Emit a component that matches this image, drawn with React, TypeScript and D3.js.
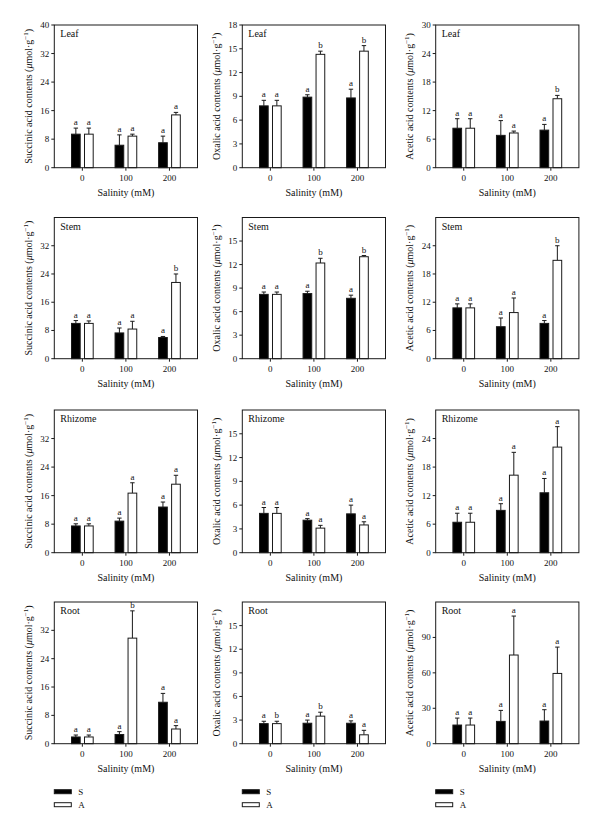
import React from 'react';
import * as d3 from 'd3';

const salinity = ['0', '100', '200'];
const organs = ['Leaf', 'Stem', 'Rhizome', 'Root'];
const acidNames = ['Succinic', 'Oxalic', 'Acetic'];

// means (rows: Leaf, Stem, Rhizome, Root; cols: 0, 100, 200 mM)
const succinicS = [[9.4, 6.3, 7.0], [10.0, 7.3, 6.0], [7.5, 8.85, 12.8], [1.9, 2.6, 11.7]];
const succinicSErr = [[1.7, 2.9, 1.85], [0.8, 1.4, 0.3], [0.6, 0.85, 1.4], [0.55, 0.8, 2.5]];
const succinicA = [[9.4, 8.85, 14.8], [10.0, 8.4, 21.6], [7.5, 16.7, 19.2], [1.9, 29.8, 4.15]];
const succinicAErr = [[1.7, 0.55, 0.7], [0.7, 2.2, 2.4], [0.6, 2.9, 2.5], [0.55, 7.7, 0.95]];

const oxalicS = [[7.8, 8.9, 8.8], [8.2, 8.3, 7.7], [4.96, 4.1, 4.9], [2.55, 2.6, 2.6]];
const oxalicSErr = [[0.7, 0.3, 1.1], [0.3, 0.3, 0.4], [0.74, 0.2, 1.1], [0.3, 0.4, 0.3]];
const oxalicA = [[7.8, 14.3, 14.7], [8.2, 12.2, 13.0], [4.96, 3.1, 3.5], [2.55, 3.5, 1.13]];
const oxalicAErr = [[0.7, 0.4, 0.7], [0.3, 0.6, 0.15], [0.74, 0.35, 0.4], [0.3, 0.5, 0.57]];

const aceticS = [[8.3, 6.8, 7.9], [10.8, 6.8, 7.5], [6.4, 8.9, 12.6], [15.8, 18.9, 19.2]];
const aceticSErr = [[2.0, 3.1, 1.2], [0.85, 1.85, 0.6], [1.9, 1.4, 3.0], [5.9, 9.3, 9.6]];
const aceticA = [[8.3, 7.3, 14.5], [10.8, 9.8, 20.9], [6.4, 16.3, 22.2], [15.8, 75.1, 59.5]];
const aceticAErr = [[2.0, 0.4, 0.7], [0.85, 3.1, 3.1], [1.9, 4.8, 4.3], [5.9, 33.0, 22.3]];

// significance letters
const succinicSLetters = [['a', 'a', 'a'], ['a', 'a', 'a'], ['a', 'a', 'a'], ['a', 'a', 'a']];
const succinicALetters = [['a', 'a', 'a'], ['a', 'a', 'b'], ['a', 'a', 'a'], ['a', 'b', 'a']];
const oxalicSLetters = [['a', 'a', 'a'], ['a', 'a', 'a'], ['a', 'a', 'a'], ['a', 'a', 'a']];
const oxalicALetters = [['a', 'b', 'b'], ['a', 'b', 'b'], ['a', 'a', 'a'], ['b', 'b', 'a']];
const aceticSLetters = [['a', 'a', 'a'], ['a', 'a', 'a'], ['a', 'a', 'a'], ['a', 'a', 'a']];
const aceticALetters = [['a', 'a', 'b'], ['a', 'a', 'b'], ['a', 'a', 'a'], ['a', 'a', 'a']];

// y domains and tick labels per acid per organ
const succinicMax = [40, 40, 40, 40];
const succinicTicks = [[0, 8, 16, 24, 32, 40], [0, 8, 16, 24, 32], [0, 8, 16, 24, 32], [0, 8, 16, 24, 32]];
const oxalicMax = [18, 18, 18, 18];
const oxalicTicks = [[0, 3, 6, 9, 12, 15, 18], [0, 3, 6, 9, 12, 15], [0, 3, 6, 9, 12, 15], [0, 3, 6, 9, 12, 15]];
const aceticMax = [30, 30, 30, 120];
const aceticTicks = [[0, 6, 12, 18, 24, 30], [0, 6, 12, 18, 24], [0, 6, 12, 18, 24], [0, 30, 60, 90]];

const legendLabels = ['S', 'A'];

const acidData = [
  { s: succinicS, se: succinicSErr, a: succinicA, ae: succinicAErr, sl: succinicSLetters, al: succinicALetters, max: succinicMax, ticks: succinicTicks },
  { s: oxalicS, se: oxalicSErr, a: oxalicA, ae: oxalicAErr, sl: oxalicSLetters, al: oxalicALetters, max: oxalicMax, ticks: oxalicTicks },
  { s: aceticS, se: aceticSErr, a: aceticA, ae: aceticAErr, sl: aceticSLetters, al: aceticALetters, max: aceticMax, ticks: aceticTicks },
];

const FONT = '"Liberation Serif", "DejaVu Serif", serif';
const colLeft = [54.3, 242.3, 435.7];
const colW = 143.2;
const rowTop = [25, 217.5, 410, 602];
const rowBottom = [167.7, 358.7, 552.7, 743.7];
const BAR_W = 8.7;
const GAP = 2.15;
const STROKE = '#1a1a1a';

function Panel({ ci, ri }: { ci: number; ri: number }) {
  const d = acidData[ci];
  const left = colLeft[ci];
  const right = left + colW;
  const top = rowTop[ri];
  const bottom = rowBottom[ri];
  const x = d3.scalePoint<string>().domain(salinity).range([left, right]).padding(0.644);
  const y = d3.scaleLinear().domain([0, d.max[ri]]).range([bottom, top]);
  const series = [
    { vals: d.s[ri], errs: d.se[ri], letters: d.sl[ri], fill: '#000', off: -GAP - BAR_W },
    { vals: d.a[ri], errs: d.ae[ri], letters: d.al[ri], fill: '#fff', off: GAP },
  ];
  const midY = (top + bottom) / 2;
  return (
    <g>
      {series.map((s, si) =>
        salinity.map((c, k) => {
          const cx = (x(c) as number) + s.off;
          const v = s.vals[k];
          const et = v + s.errs[k];
          const barCenter = cx + BAR_W / 2;
          return (
            <g key={`${si}-${k}`}>
              <line x1={barCenter} x2={barCenter} y1={y(v)} y2={y(et)} stroke={STROKE} strokeWidth={1} />
              <line x1={barCenter - 2.2} x2={barCenter + 2.2} y1={y(et)} y2={y(et)} stroke={STROKE} strokeWidth={1} />
              <rect x={cx} y={y(v)} width={BAR_W} height={bottom - y(v)} fill={s.fill} stroke={STROKE} strokeWidth={1} />
              <text x={barCenter} y={y(et) - 3} textAnchor="middle" fontSize={9} fontFamily={FONT} fill="#111">
                {s.letters[k]}
              </text>
            </g>
          );
        })
      )}
      <rect x={left} y={top} width={colW} height={bottom - top} fill="none" stroke={STROKE} strokeWidth={1} />
      {d.ticks[ri].map((t) => (
        <g key={t}>
          <line x1={left - 3} x2={left} y1={y(t)} y2={y(t)} stroke={STROKE} strokeWidth={1} />
          <text x={left - 5} y={y(t)} dy="0.33em" textAnchor="end" fontSize={9} fontFamily={FONT} fill="#111">
            {t}
          </text>
        </g>
      ))}
      {salinity.map((c) => (
        <g key={c}>
          <line x1={x(c) as number} x2={x(c) as number} y1={bottom} y2={bottom + 3} stroke={STROKE} strokeWidth={1} />
          <text x={x(c) as number} y={bottom + 13} textAnchor="middle" fontSize={9} fontFamily={FONT} fill="#111">
            {c}
          </text>
        </g>
      ))}
      <text x={(left + right) / 2} y={bottom + 28} textAnchor="middle" fontSize={10} fontFamily={FONT} fill="#111">
        Salinity (mM)
      </text>
      <text x={left + 6} y={top + 12} fontSize={10} fontFamily={FONT} fill="#111">
        {organs[ri]}
      </text>
      <g transform={`translate(${left - 26},${midY}) rotate(-90)`}>
        <text x={0} y={0} dy="0.35em" textAnchor="middle" fontSize={10} fontFamily={FONT} fill="#111">
          {`${acidNames[ci]} acid contents (`}
          <tspan fontStyle="italic">μ</tspan>
          <tspan>mol·g</tspan>
          <tspan dy={-4} fontSize={7}>−1</tspan>
          <tspan dy={4}>)</tspan>
        </text>
      </g>
    </g>
  );
}

export default function App() {
  return (
    <svg width={600} height={831} style={{ position: 'absolute', left: 0, top: 0, background: '#fff' }}>
      <rect x={0} y={0} width={600} height={831} fill="#fff" />
      {acidNames.map((_, ci) =>
        organs.map((__, ri) => <Panel key={`${ci}-${ri}`} ci={ci} ri={ri} />)
      )}
      {colLeft.map((l, ci) => (
        <g key={ci}>
          {legendLabels.map((lab, i) => (
            <g key={lab}>
              <rect x={l} y={789.7 + i * 13} width={17} height={4} fill={i === 0 ? '#000' : '#fff'} stroke={STROKE} strokeWidth={1} />
              <text x={l + 24} y={794.5 + i * 13} fontSize={9} fontFamily={FONT} fill="#111">
                {lab}
              </text>
            </g>
          ))}
        </g>
      ))}
    </svg>
  );
}
